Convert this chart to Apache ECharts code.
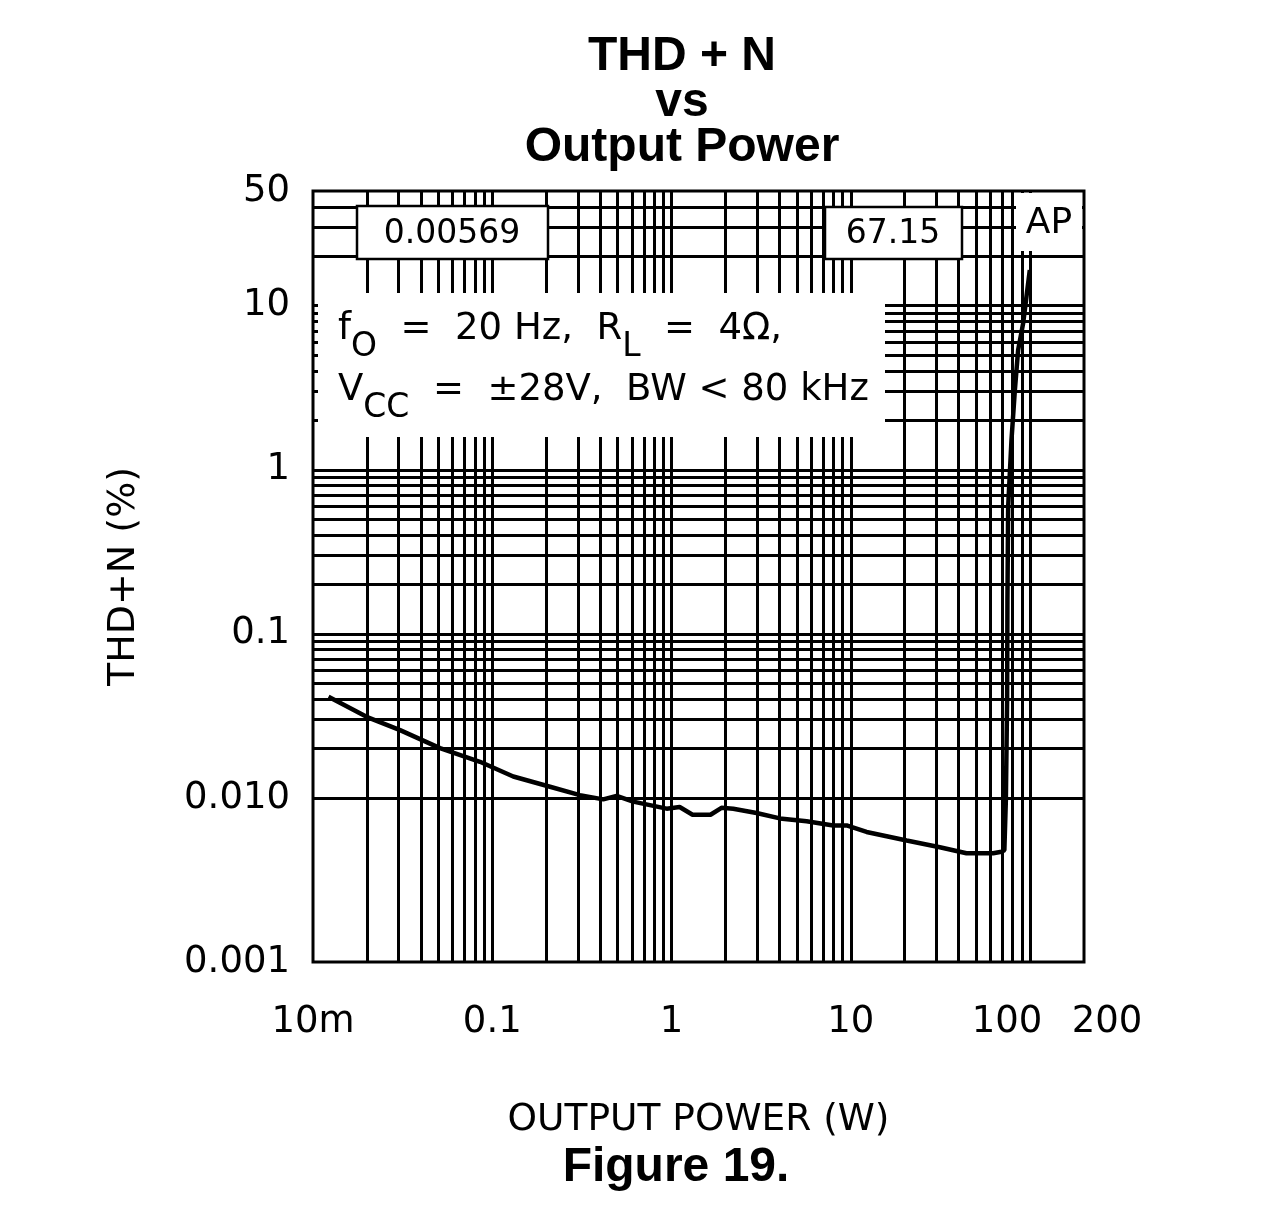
<!DOCTYPE html>
<html>
<head>
<meta charset="utf-8">
<title>THD + N vs Output Power</title>
<script src="https://cdn.jsdelivr.net/npm/echarts@6/dist/echarts.min.js"></script>
<style>
  html, body { margin: 0; padding: 0; background: #fff; }
  #chart { width: 1280px; height: 1226px; }
</style>
</head>
<body>
<div id="chart"></div>
<script>
// curve: output power (W) and THD+N (%)
var power = [0.0122, 0.0199, 0.0306, 0.0511, 0.0854, 0.131, 0.21, 0.308, 0.416, 0.494,
             0.611, 0.939, 1.11, 1.31, 1.65, 1.9, 2.21, 2.98, 4.02, 5.67,
             7.98, 9.48, 12.25, 20.5, 31.4, 44.2, 62.3, 69.3, 71.9, 73.3,
             74.5, 74.8, 75.5, 78.8, 82.3, 85.8, 91.5, 99.7];
var thdn = [0.0414, 0.0312, 0.0259, 0.0201, 0.0166, 0.0135, 0.0117, 0.0104, 0.0098, 0.0103,
            0.0095, 0.0086, 0.0088, 0.0079, 0.0079, 0.0087, 0.0086, 0.0081, 0.0075, 0.0072,
            0.0068, 0.0068, 0.0062, 0.0055, 0.0050, 0.0046, 0.0046, 0.0047, 0.0048, 0.0097,
            0.0395, 0.161, 0.595, 1.52, 3.06, 5.36, 7.8, 16.5];

// axis ticks
var xTickValues = [0.01, 0.1, 1, 10, 100, 200];
var xTickLabels = ['10m', '0.1', '1', '10', '{l|100}', '{r|200}'];
var yTickValues = [0.001, 0.01, 0.1, 1, 10, 50];
var yTickLabels = ['0.001', '0.010', '0.1', '1', '10', '50'];

// log grid: 1..9 in every decade
var gridSteps = [1, 2, 3, 4, 5, 6, 7, 8, 9];
var xDecades = [0.01, 0.1, 1, 10, 100];
var yDecades = [0.001, 0.01, 0.1, 1, 10];
var xMin = 0.01, xMax = 200, yMin = 0.001, yMax = 50;

function gridValues(decades, lo, hi) {
  var out = [];
  decades.forEach(function (d) {
    gridSteps.forEach(function (k) {
      var v = +(d * k).toPrecision(6);
      if (v > lo * 1.0001 && v < hi * 0.9999) out.push(v);
    });
  });
  return out;
}

function tickText(values, labels) {
  return function (v) {
    for (var i = 0; i < values.length; i++) {
      if (Math.abs(Math.log10(v / values[i])) < 1e-6) return labels[i];
    }
    return '';
  };
}

var FONT = 'DejaVu Sans';
var BOLD = 'Liberation Sans';

var gridLines = gridValues(xDecades, xMin, xMax).map(function (v) { return { xAxis: v }; })
  .concat(gridValues(yDecades, yMin, yMax).map(function (v) { return { yAxis: v }; }));

var condRich = {
  n: { fontFamily: FONT, fontSize: 37, fill: '#000', lineHeight: 40, verticalAlign: 'top' },
  s: { fontFamily: FONT, fontSize: 33, fill: '#000', lineHeight: 53, verticalAlign: 'bottom' }
};

var chart = echarts.init(document.getElementById('chart'));

chart.setOption({
  backgroundColor: '#fff',
  animation: false,
  grid: {
    left: 313, right: 196, top: 191, bottom: 264,
    show: true, borderColor: '#000', borderWidth: 3,
    backgroundColor: 'transparent',
    outerBoundsMode: 'none'
  },
  xAxis: {
    type: 'log', logBase: 10, min: xMin, max: xMax,
    name: 'OUTPUT POWER (W)', nameLocation: 'middle', nameGap: 139,
    nameTextStyle: { fontFamily: FONT, fontSize: 37.5, color: '#000' },
    axisLine: { show: false }, axisTick: { show: false }, splitLine: { show: false },
    axisLabel: {
      formatter: tickText(xTickValues, xTickLabels),
      margin: 42, fontFamily: FONT, fontSize: 37, color: '#000',
      showMinLabel: true, showMaxLabel: true,
      rich: {
        l: { fontFamily: FONT, fontSize: 37, color: '#000', padding: [0, 46, 0, 0] },
        r: { fontFamily: FONT, fontSize: 37, color: '#000', padding: [0, 0, 0, 46] }
      }
    }
  },
  yAxis: {
    type: 'log', logBase: 10, min: yMin, max: yMax,
    name: 'THD+N (%)', nameLocation: 'middle', nameGap: 170,
    nameTextStyle: { fontFamily: FONT, fontSize: 38, color: '#000' },
    axisLine: { show: false }, axisTick: { show: false }, splitLine: { show: false },
    axisLabel: {
      formatter: tickText(yTickValues, yTickLabels),
      margin: 23, fontFamily: FONT, fontSize: 37, color: '#000',
      showMinLabel: true, showMaxLabel: true
    }
  },
  series: [
    {
      name: 'grid',
      type: 'line',
      z: 2,
      silent: true,
      symbol: 'none',
      data: [[xMin, yMin]],
      lineStyle: { width: 0 },
      markLine: {
        silent: true,
        symbol: ['none', 'none'],
        label: { show: false },
        lineStyle: { color: '#000', width: 3, type: 'solid' },
        data: gridLines
      }
    },
    {
      name: 'THD+N',
      type: 'line',
      z: 20,
      symbol: 'none',
      smooth: false,
      lineStyle: { color: '#000', width: 4.5 },
      data: power.map(function (p, i) { return [p, thdn[i]]; })
    }
  ],
  graphic: [
    { type: 'text', x: 682, y: 57, z: 30,
      style: { text: 'THD + N', fontFamily: BOLD, fontSize: 48, fontWeight: 'bold', fill: '#000', align: 'center', verticalAlign: 'middle' } },
    { type: 'text', x: 682, y: 103, z: 30,
      style: { text: 'vs', fontFamily: BOLD, fontSize: 48, fontWeight: 'bold', fill: '#000', align: 'center', verticalAlign: 'middle' } },
    { type: 'text', x: 682, y: 148, z: 30,
      style: { text: 'Output Power', fontFamily: BOLD, fontSize: 48, fontWeight: 'bold', fill: '#000', align: 'center', verticalAlign: 'middle' } },
    { type: 'text', x: 676, y: 1168, z: 30,
      style: { text: 'Figure 19.', fontFamily: BOLD, fontSize: 48, fontWeight: 'bold', fill: '#000', align: 'center', verticalAlign: 'middle' } },

    // conditions box
    { type: 'rect', z: 10, shape: { x: 318, y: 293, width: 567, height: 144 },
      style: { fill: '#fff' } },
    { type: 'text', x: 338, y: 311, z: 11,
      style: {
        text: '{n|f}{s|O}{n|  =  20 Hz,  R}{s|L}{n|  =  4Ω,}',
        align: 'left', verticalAlign: 'top', rich: condRich
      } },
    { type: 'text', x: 338, y: 372, z: 11,
      style: {
        text: '{n|V}{s|CC}{n|  =  ±28V,  BW < 80 kHz}',
        align: 'left', verticalAlign: 'top', rich: condRich
      } },

    // cursor readouts
    { type: 'rect', z: 10, shape: { x: 357, y: 206, width: 191, height: 53 },
      style: { fill: '#fff', stroke: '#000', lineWidth: 2.5 } },
    { type: 'text', x: 452, y: 234, z: 11,
      style: { text: '0.00569', fontFamily: FONT, fontSize: 33, fill: '#000', align: 'center', verticalAlign: 'middle' } },
    { type: 'rect', z: 10, shape: { x: 825, y: 207, width: 137, height: 52 },
      style: { fill: '#fff', stroke: '#000', lineWidth: 2.5 } },
    { type: 'text', x: 893, y: 234, z: 11,
      style: { text: '67.15', fontFamily: FONT, fontSize: 33, fill: '#000', align: 'center', verticalAlign: 'middle' } },
    { type: 'rect', z: 10, shape: { x: 1016, y: 193, width: 66, height: 58 },
      style: { fill: '#fff' } },
    { type: 'text', x: 1049, y: 224, z: 11,
      style: { text: 'AP', fontFamily: FONT, fontSize: 36, fill: '#000', align: 'center', verticalAlign: 'middle' } }
  ]
});
</script>
</body>
</html>
